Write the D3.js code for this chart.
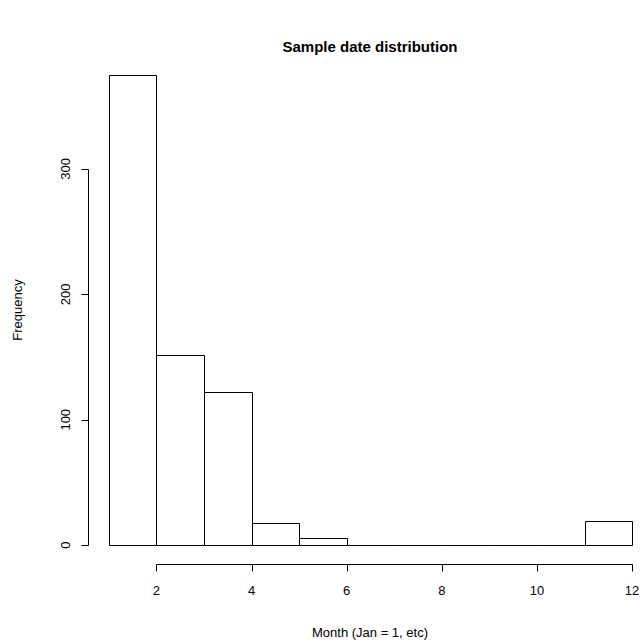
<!DOCTYPE html>
<html>
<head>
<meta charset="utf-8">
<script src="https://cdn.jsdelivr.net/npm/d3@7"></script>
<style>
  body { margin: 0; background: #fff; }
  svg { font-family: "Liberation Sans", Arial, sans-serif; }
</style>
</head>
<body>
<svg width="643" height="644"></svg>
<script>
// histogram bins (month start, month end) and counts
const binStarts = [1, 2, 3, 4, 5, 6, 7, 8, 9, 10, 11];
const binEnds = [2, 3, 4, 5, 6, 7, 8, 9, 10, 11, 12];
const counts = [375, 152, 122, 18, 6, 0, 0, 0, 0, 0, 19];
const xTicks = [2, 4, 6, 8, 10, 12];
const yTicks = [0, 100, 200, 300];

const svg = d3.select("svg");

// R style: 4% padding on both axes
const x = d3.scaleLinear().domain([0.56, 12.44]).range([88, 653]);
const y = d3.scaleLinear().domain([-15, 390]).range([564, 56]);

const px = v => Math.round(v) + 0.5;

const bins = binStarts.map((s, i) => ({ x0: s, x1: binEnds[i], n: counts[i] }));

// bars as closed paths so empty bins still show as a line
svg.append("g")
  .selectAll("path")
  .data(bins)
  .enter()
  .append("path")
  .attr("d", d => {
    const l = px(x(d.x0)), r = px(x(d.x1));
    const t = px(y(d.n)), b = px(y(0));
    return `M${l},${b}L${l},${t}L${r},${t}L${r},${b}Z`;
  })
  .attr("fill", "none")
  .attr("stroke", "#000")
  .attr("stroke-width", 1);

// x axis
const xAxisY = 564.5;
const gx = svg.append("g");
gx.append("line")
  .attr("x1", px(x(xTicks[0])))
  .attr("x2", px(x(xTicks[xTicks.length - 1])))
  .attr("y1", xAxisY).attr("y2", xAxisY)
  .attr("stroke", "#000");
gx.selectAll(".tk")
  .data(xTicks)
  .enter()
  .append("line")
  .attr("x1", d => px(x(d)))
  .attr("x2", d => px(x(d)))
  .attr("y1", xAxisY).attr("y2", xAxisY + 7)
  .attr("stroke", "#000");
gx.selectAll("text")
  .data(xTicks)
  .enter()
  .append("text")
  .attr("x", d => x(d))
  .attr("y", 595)
  .attr("text-anchor", "middle")
  .attr("font-size", 13)
  .text(d => d);

// y axis
const yAxisX = 88.5;
const gy = svg.append("g");
gy.append("line")
  .attr("x1", yAxisX).attr("x2", yAxisX)
  .attr("y1", px(y(yTicks[0])))
  .attr("y2", px(y(yTicks[yTicks.length - 1])))
  .attr("stroke", "#000");
gy.selectAll(".tk")
  .data(yTicks)
  .enter()
  .append("line")
  .attr("x1", yAxisX - 7).attr("x2", yAxisX)
  .attr("y1", d => px(y(d)))
  .attr("y2", d => px(y(d)))
  .attr("stroke", "#000");
gy.selectAll("text")
  .data(yTicks)
  .enter()
  .append("text")
  .attr("transform", d => `translate(70,${y(d)}) rotate(-90)`)
  .attr("text-anchor", "middle")
  .attr("font-size", 13)
  .text(d => d);

// titles
svg.append("text")
  .attr("x", 370).attr("y", 52)
  .attr("text-anchor", "middle")
  .attr("font-size", 15)
  .attr("font-weight", "bold")
  .text("Sample date distribution");

svg.append("text")
  .attr("x", 370).attr("y", 637)
  .attr("text-anchor", "middle")
  .attr("font-size", 13)
  .text("Month (Jan = 1, etc)");

svg.append("text")
  .attr("transform", "translate(22,310) rotate(-90)")
  .attr("text-anchor", "middle")
  .attr("font-size", 13)
  .text("Frequency");
</script>
</body>
</html>
